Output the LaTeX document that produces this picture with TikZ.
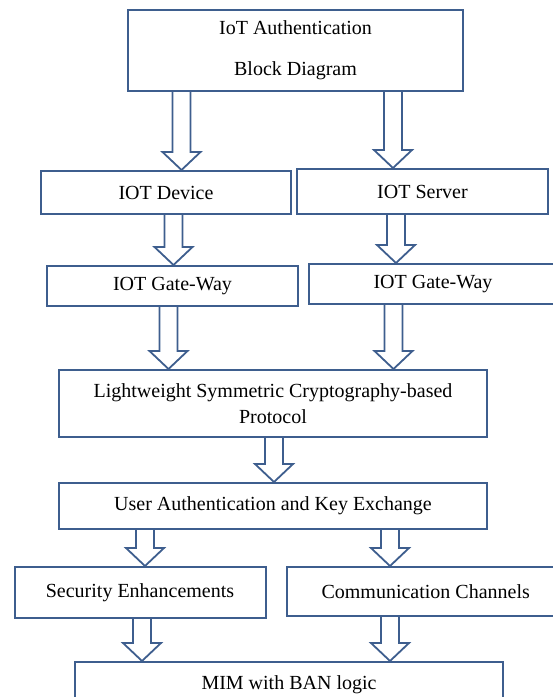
\documentclass[tikz,border=0pt]{standalone}
\usepackage{fontspec}
\setmainfont{Liberation Serif}
\usepackage{tikz}
\usetikzlibrary{calc}
\definecolor{bdblue}{RGB}{62,94,142}

% hollow block arrow from the bottom of #1 to the top of #2, at x = #3
\newcommand{\blockarrow}[3]{%
\draw [arrowline] let \p1=(#1.south), \p2=(#2.north) in
(#3pt-9pt,\y1) -- (#3pt-9pt,\y2+18pt) -- (#3pt-19pt,\y2+18pt) -- (#3pt,\y2)
-- (#3pt+19pt,\y2+18pt) -- (#3pt+9pt,\y2+18pt) -- (#3pt+9pt,\y1);}

\begin{document}
\begin{tikzpicture}[x=1pt,y=-1pt,line join=miter,
box/.style={draw=bdblue,line width=2pt,inner sep=0pt,align=center,font=\fontsize{20}{26}\selectfont},
arrowline/.style={draw=bdblue,line width=1.8pt,fill=white}]
\useasboundingbox (0,0) rectangle (553,697);
\clip (0,0) rectangle (553,697);
\node [box,minimum width=335pt,minimum height=81pt,font=\fontsize{20}{41}\selectfont] (top) at (295.5,50.5) {IoT Authentication\\Block Diagram};
\node [box,minimum width=250pt,minimum height=43pt] (dev) at (166,192.5) {IOT Device};
\node [box,minimum width=251pt,minimum height=45pt] (srv) at (422.5,191.5) {IOT Server};
\node [box,minimum width=251pt,minimum height=40pt] (gwl) at (172.5,286) {IOT Gate-Way};
\node [box,minimum width=248pt,minimum height=40pt] (gwr) at (433,284) {IOT Gate-Way};
\node [box,minimum width=428pt,minimum height=67pt] (lw) at (273,403.5) {Lightweight Symmetric Cryptography-based\\Protocol};
\node [box,minimum width=428pt,minimum height=46pt] (ua) at (273,506) {User Authentication and Key Exchange};
\node [box,minimum width=251pt,minimum height=51pt] (sec) at (140,592.5) {Security Enhancements};
\node [box,minimum width=277pt,minimum height=49pt] (com) at (425.7,591.5) {Communication Channels};
\node [box,minimum width=428pt,minimum height=46pt] (mim) at (289,685) {MIM with BAN logic};
\blockarrow{top}{dev}{181.5}
\blockarrow{top}{srv}{393}
\blockarrow{dev}{gwl}{173.5}
\blockarrow{srv}{gwr}{396}
\blockarrow{gwl}{lw}{168.5}
\blockarrow{gwr}{lw}{393.5}
\blockarrow{lw}{ua}{274}
\blockarrow{ua}{sec}{145}
\blockarrow{ua}{com}{390}
\blockarrow{sec}{mim}{142}
\blockarrow{com}{mim}{390}
\end{tikzpicture}
\end{document}
